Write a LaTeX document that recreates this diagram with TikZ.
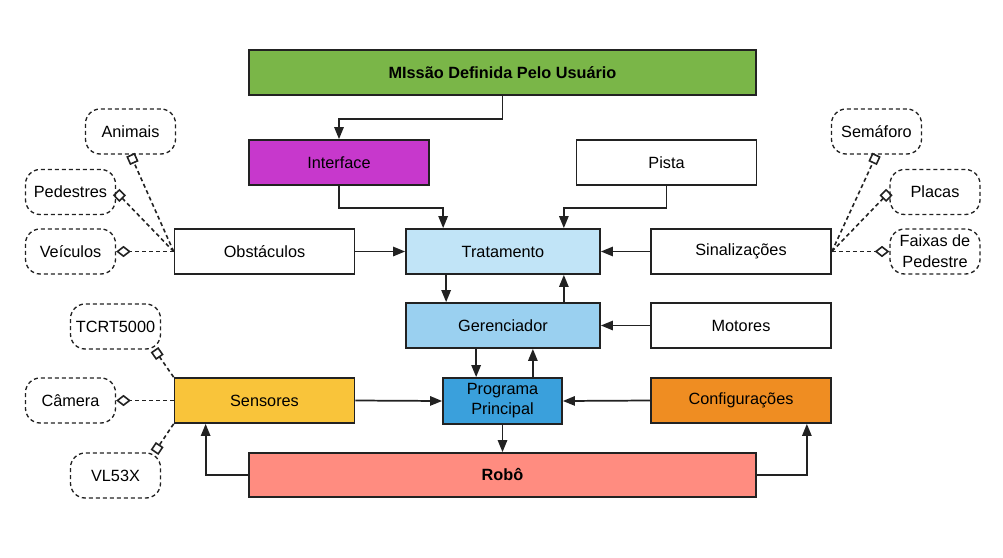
\documentclass[tikz,border=0pt]{standalone}
\usepackage{fontspec}
\setmainfont{Liberation Sans}
\usetikzlibrary{arrows.meta,positioning,calc}

\definecolor{linec}{RGB}{34,34,34}
\definecolor{missao}{RGB}{122,182,72}
\definecolor{interf}{RGB}{199,56,204}
\definecolor{tratc}{RGB}{193,228,247}
\definecolor{gerc}{RGB}{154,208,240}
\definecolor{progc}{RGB}{58,160,220}
\definecolor{sensc}{RGB}{249,196,58}
\definecolor{confc}{RGB}{239,141,34}
\definecolor{roboc}{RGB}{255,140,128}

\begin{document}
\begin{tikzpicture}[x=0.75pt,y=-0.75pt,
  box/.style={draw=linec, line width=1.3pt, minimum width=135pt, minimum height=33.75pt,
    inner sep=2pt, align=center, font=\fontsize{12.2}{15}\selectfont},
  bubble/.style={draw=linec, line width=1pt, dash pattern=on 3pt off 2.25pt,
    rounded corners=11pt, minimum width=67.5pt, minimum height=33.75pt,
    inner xsep=2pt, inner ysep=1pt, align=center, font=\fontsize{12.2}{15.5}\selectfont},
  arr/.style={draw=linec, line width=1.3pt, -{Triangle[length=9pt,width=7pt]}},
  sqlink/.style={draw=linec, line width=1.2pt, dash pattern=on 3pt off 2.25pt,
    -{Square[open,length=7pt,width=7pt]}},
  dmlink/.style={draw=linec, line width=1.2pt, dash pattern=on 3pt off 2.25pt,
    -{Diamond[open,length=11pt,width=8.5pt]}}]
\useasboundingbox (0,0) rectangle (1003,557);
% Main blocks
\node[box, fill=missao, minimum width=380.25pt, font=\fontsize{12.2}{15}\selectfont\bfseries] (missao) at (502.5,72.5) {MIssão Definida Pelo Usuário};
\node[box, fill=interf] (interface) at (339,162.5) {Interface};
\node[box] (pista) at (666.5,162.5) {Pista};
\node[box] (obst) at (264.5,251.5) {Obstáculos};
\node[box, fill=tratc, minimum width=145.5pt] (trat) at (503,251.5) {Tratamento};
\node[box] (sinal) at (741,251.5) {Sinalizações};
\node[box, fill=gerc, minimum width=145.5pt] (ger) at (503,325.5) {Gerenciador};
\node[box] (motores) at (741,325.5) {Motores};
\node[box, fill=sensc] (sens) at (264.5,400.5) {Sensores};
\node[box, fill=progc, minimum width=89.25pt, minimum height=34.5pt] (prog) at (502.5,401) {Programa\\Principal};
\node[box, fill=confc] (conf) at (741,400.5) {Configurações};
\node[box, fill=roboc, minimum width=380.25pt, minimum height=33pt, font=\fontsize{12.2}{15}\selectfont\bfseries] (robo) at (502.5,475) {Robô};
% Dashed bubbles
\node[bubble] (animais) at (130.5,131.5) {Animais};
\node[bubble] (pedestres) at (70.5,192) {Pedestres};
\node[bubble] (veiculos) at (70.5,251.5) {Veículos};
\node[bubble] (semaforo) at (876.5,131.5) {Semáforo};
\node[bubble] (placas) at (935,192) {Placas};
\node[bubble] (faixas) at (935,251.5) {Faixas de\\Pedestre};
\node[bubble] (tcrt) at (115.5,326.5) {TCRT5000};
\node[bubble] (camera) at (70.5,400.5) {Câmera};
\node[bubble] (vl) at (115.5,475.5) {VL53X};
% Flow arrows
\draw[arr] (missao.south) -- ++(0,23) -| (interface.north);
\draw[arr] (interface.south) -- ++(0,22) -| ([xshift=28.5pt]trat.north west);
\draw[arr] (pista.south) -- ++(0,22) -| ([xshift=-27.75pt]trat.north east);
\draw[arr] (obst.east) -- (trat.west);
\draw[arr] (sinal.west) -- (trat.east);
\draw[arr] ([xshift=30.75pt]trat.south west) -- ([xshift=30.75pt]ger.north west);
\draw[arr] ([xshift=-27.75pt]ger.north east) -- ([xshift=-27.75pt]trat.south east);
\draw[arr] (motores.west) -- (ger.east);
\draw[arr] ([xshift=25.5pt]prog.north west |- ger.south) -- ([xshift=25.5pt]prog.north west);
\draw[arr] ([xshift=-22.5pt]prog.north east) -- ([xshift=-22.5pt]prog.north east |- ger.south);
\draw[arr] (sens.east) -- (prog.west);
\draw[arr] (conf.west) -- (prog.east);
\draw[arr] (prog.south) -- (prog.south |- robo.north);
\draw[arr] (robo.west) -| ([xshift=24pt]sens.south west);
\draw[arr] (robo.east) -| ([xshift=-18.75pt]conf.south east);
% Dashed links
\foreach \a/\b in {obst.west/animais.south, obst.west/pedestres.east, sinal.east/semaforo.south, sinal.east/placas.west}
  \draw[sqlink] (\a) -- (\b);
\foreach \a/\b in {obst.west/veiculos.east, sinal.east/faixas.west, sens.west/camera.east}
  \draw[dmlink] (\a) -- (\b);
\draw[sqlink] (sens.north west) -- ([xshift=-5pt]tcrt.south east);
\draw[sqlink] (sens.south west) -- ([xshift=-5pt]vl.north east);
\end{tikzpicture}
\end{document}
